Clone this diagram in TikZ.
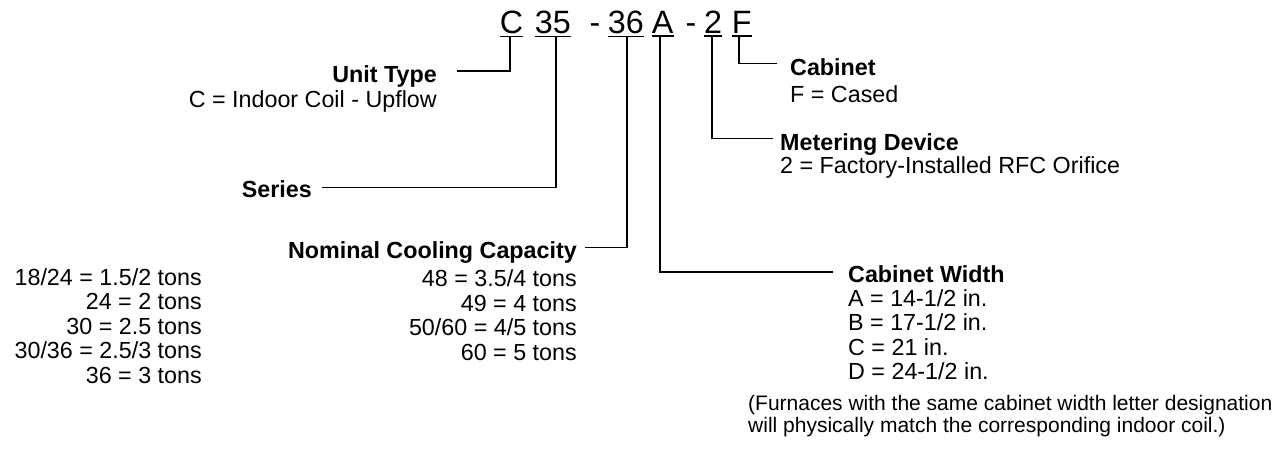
\documentclass[tikz,border=0pt]{standalone}
\usepackage{fontspec}
\setmainfont{Liberation Sans}
\usepackage{tikz}
\usetikzlibrary{positioning}

\begin{document}
\begin{tikzpicture}[x=1pt, y=-1pt,
    every node/.style={inner sep=0pt},
    code/.style={font=\fontsize{32.3}{34}\selectfont, anchor=base},
    head/.style={font=\fontsize{23.3}{24.6}\selectfont\bfseries, text depth=0pt},
    body/.style={font=\fontsize{23.3}{24.6}\selectfont},
    lead/.style={line width=1.8pt}]
  \useasboundingbox (0,0) rectangle (1280,448);
  % ---------- MODEL NUMBER ----------
  \node[code] (cC)  at (511.5,33) {C};
  \node[code] (c35) at (552.8,33) {35};
  \node[code] (cd1) at (595,33) {-};
  \node[code] (c36) at (625.8,33) {36};
  \node[code] (cA)  at (662.7,33) {A};
  \node[code] (cd2) at (691,33) {-};
  \node[code] (c2)  at (713,33) {2};
  \node[code] (cF)  at (741.8,33) {F};
  \foreach \n in {cC,c35,c36,cA,c2,cF}
    \draw[lead] ([yshift=-3pt]\n.south west) -- ([yshift=-3pt]\n.south east);
  % ---------- LEFT SIDE ----------
  \node[head, anchor=base east] (unit) at (437,82) {Unit Type};
  \node[body, anchor=base east] (unitv) at (437,107) {C = Indoor Coil - Upflow};
  \node[head, anchor=base east] (series) at (312,197) {Series};
  \node[head, anchor=base east] (ncc) at (577,258) {Nominal Cooling Capacity};
  \node[body, anchor=north east, align=right] (nccA) at (202,268)
    {18/24 = 1.5/2 tons\\24 = 2 tons\\30 = 2.5 tons\\30/36 = 2.5/3 tons\\36 = 3 tons};
  \node[body, anchor=north east, align=right] (nccB) at (577,269.5)
    {48 = 3.5/4 tons\\49 = 4 tons\\50/60 = 4/5 tons\\60 = 5 tons};
  % ---------- RIGHT SIDE ----------
  \node[head, anchor=base west] (cab) at (790,75) {Cabinet};
  \node[body, anchor=base west] (cabv) at (790,102) {F = Cased};
  \node[head, anchor=base west] (meter) at (780,150) {Metering Device};
  \node[body, anchor=base west] (meterv) at (780,173) {2 = Factory-Installed RFC Orifice};
  \node[head, anchor=base west] (width) at (848,282) {Cabinet Width};
  \node[body, anchor=north west, align=left] (widthv) at (848,289)
    {A = 14-1/2 in.\\B = 17-1/2 in.\\C = 21 in.\\D = 24-1/2 in.};
  \node[anchor=north west, align=left, font=\fontsize{21}{22}\selectfont] (note) at (748,394.7)
    {(Furnaces with the same cabinet width letter designation\\will physically match the corresponding indoor coil.)};
  % ---------- LEADERS ----------
  \draw[lead] ([xshift=-1.5pt,yshift=-3pt]cC.south) |- ([xshift=20pt,yshift=2.5pt]unit.east);
  \draw[lead] ([xshift=3pt,yshift=-3pt]c35.south) |- ([xshift=10pt,yshift=1pt]series.east);
  \draw[lead] ([xshift=1pt,yshift=-3pt]c36.south) |- ([xshift=8pt,yshift=2pt]ncc.east);
  \draw[lead] ([xshift=-3pt,yshift=-3pt]cA.south) |- ([xshift=-15pt,yshift=1.5pt]width.west);
  \draw[lead] ([xshift=-0.7pt,yshift=-3pt]c2.south) |- ([xshift=-7pt,yshift=3pt]meter.west);
  \draw[lead] ([xshift=-2.5pt,yshift=-3pt]cF.south) |- ([xshift=-13pt,yshift=3pt]cab.west);
\end{tikzpicture}
\end{document}
